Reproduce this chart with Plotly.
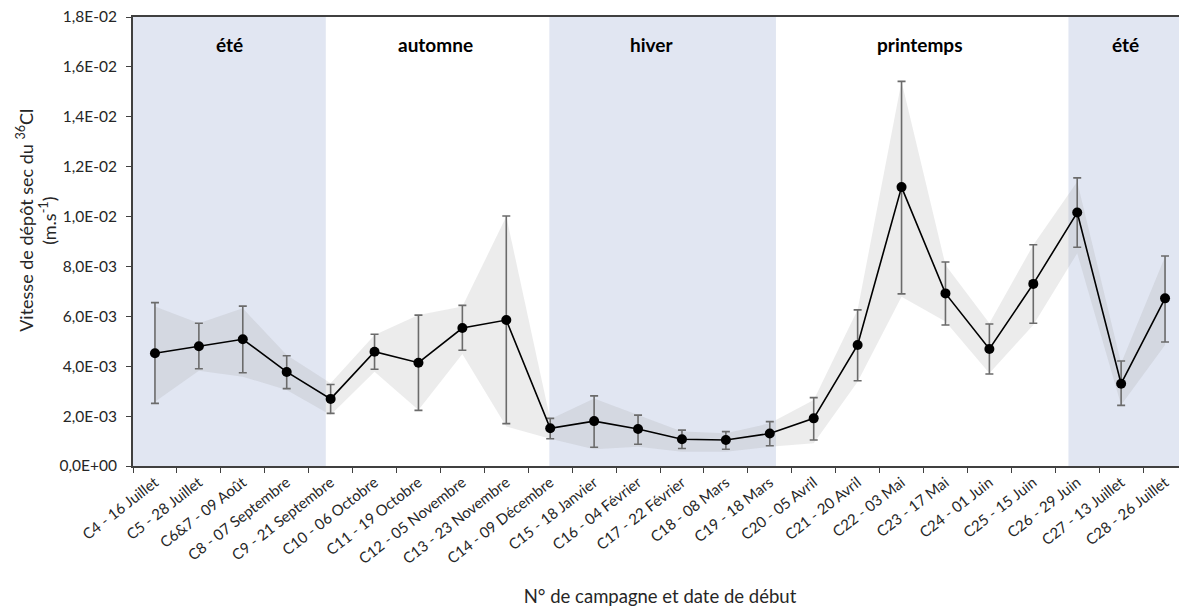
import plotly.graph_objects as go

# Campagnes et date de début
campagnes = ["C4 - 16 Juillet", "C5 - 28 Juillet", "C6&7 - 09 Août", "C8 - 07 Septembre",
             "C9 - 21 Septembre", "C10 - 06 Octobre", "C11 - 19 Octobre", "C12 - 05 Novembre",
             "C13 - 23 Novembre", "C14 - 09 Décembre", "C15 - 18 Janvier", "C16 - 04 Février",
             "C17 - 22 Février", "C18 - 08 Mars", "C19 - 18 Mars", "C20 - 05 Avril",
             "C21 - 20 Avril", "C22 - 03 Mai", "C23 - 17 Mai", "C24 - 01 Juin",
             "C25 - 15 Juin", "C26 - 29 Juin", "C27 - 13 Juillet", "C28 - 26 Juillet"]

# vitesse de dépôt (m.s-1)
vitesse = [4.52e-3, 4.80e-3, 5.08e-3, 3.77e-3, 2.69e-3, 4.58e-3, 4.14e-3, 5.53e-3,
           5.85e-3, 1.51e-3, 1.80e-3, 1.48e-3, 1.07e-3, 1.04e-3, 1.30e-3, 1.91e-3,
           4.85e-3, 1.118e-2, 6.92e-3, 4.69e-3, 7.30e-3, 1.016e-2, 3.30e-3, 6.72e-3]
err_haut = [6.55e-3, 5.72e-3, 6.41e-3, 4.42e-3, 3.27e-3, 5.28e-3, 6.05e-3, 6.44e-3,
            1.002e-2, 1.91e-3, 2.81e-3, 2.04e-3, 1.44e-3, 1.38e-3, 1.78e-3, 2.74e-3,
            6.26e-3, 1.542e-2, 8.18e-3, 5.69e-3, 8.87e-3, 1.155e-2, 4.21e-3, 8.42e-3]
err_bas = [2.51e-3, 3.90e-3, 3.74e-3, 3.10e-3, 2.11e-3, 3.88e-3, 2.23e-3, 4.64e-3,
           1.70e-3, 1.09e-3, 0.75e-3, 0.87e-3, 0.70e-3, 0.67e-3, 0.81e-3, 1.04e-3,
           3.42e-3, 6.90e-3, 5.65e-3, 3.69e-3, 5.72e-3, 8.77e-3, 2.43e-3, 4.97e-3]

# enveloppe grisée
bande_haut = [6.39e-3, 5.72e-3, 6.32e-3, 4.45e-3, 3.32e-3, 5.25e-3, 6.05e-3, 6.39e-3,
              1.0e-2, 1.87e-3, 2.71e-3, 2.04e-3, 1.38e-3, 1.31e-3, 1.71e-3, 2.65e-3,
              6.26e-3, 1.541e-2, 8.06e-3, 5.72e-3, 8.86e-3, 1.14e-2, 4.12e-3, 8.39e-3]
bande_bas = [2.58e-3, 3.82e-3, 3.58e-3, 3.05e-3, 2.04e-3, 3.78e-3, 2.25e-3, 4.49e-3,
             1.58e-3, 1.09e-3, 0.67e-3, 0.77e-3, 0.57e-3, 0.57e-3, 0.77e-3, 0.91e-3,
             3.38e-3, 6.79e-3, 5.79e-3, 3.72e-3, 5.65e-3, 8.53e-3, 2.45e-3, 4.85e-3]

saisons = ["été", "automne", "hiver", "printemps", "été"]
saisons_pos = [1.7, 6.39, 11.3, 17.4, 22.1]
# zones bleues (index de campagne)
zones = [(-0.5, 3.89), (8.98, 14.14), (20.8, 23.5)]

yticks = [0, 0.002, 0.004, 0.006, 0.008, 0.010, 0.012, 0.014, 0.016, 0.018]
yticks_txt = ["0,0E+00", "2,0E-03", "4,0E-03", "6,0E-03", "8,0E-03", "1,0E-02",
              "1,2E-02", "1,4E-02", "1,6E-02", "1,8E-02"]

font = "Lato, 'Open Sans', sans-serif"

fig = go.Figure()
fig.add_trace(go.Scatter(x=campagnes, y=bande_bas, mode="lines", line=dict(width=0),
                         showlegend=False, hoverinfo="skip"))
fig.add_trace(go.Scatter(x=campagnes, y=bande_haut, mode="lines", line=dict(width=0),
                         fill="tonexty", fillcolor="rgba(160,160,160,0.2)",
                         showlegend=False, hoverinfo="skip"))
fig.add_trace(go.Scatter(
    x=campagnes, y=vitesse, mode="lines+markers",
    line=dict(color="black", width=1.6),
    marker=dict(color="black", size=10),
    error_y=dict(type="data", symmetric=False,
                 array=[h - v for h, v in zip(err_haut, vitesse)],
                 arrayminus=[v - b for v, b in zip(vitesse, err_bas)],
                 color="#6b6b6b", thickness=1.6, width=4),
    showlegend=False))

for x0, x1 in zones:
    fig.add_shape(type="rect", xref="x", yref="paper", x0=x0, x1=x1, y0=0, y1=1,
                  fillcolor="#e1e6f2", line=dict(width=0), layer="below")

for s, p in zip(saisons, saisons_pos):
    fig.add_annotation(x=p, y=0.0169, xref="x", yref="y", text="<b>" + s + "</b>",
                       showarrow=False, font=dict(size=19, color="black", family=font))

# titre de l'axe y sur deux lignes rapprochées
fig.add_annotation(x=0, y=0.546, xref="paper", yref="paper", xanchor="center",
                   yanchor="middle", xshift=-108, textangle=-90, showarrow=False,
                   text="Vitesse de dépôt sec du <sup>36</sup>Cl",
                   font=dict(size=18, color="#262626", family=font))
fig.add_annotation(x=0, y=0.546, xref="paper", yref="paper", xanchor="center",
                   yanchor="middle", xshift=-85, textangle=-90, showarrow=False,
                   text="(m.s<sup>-1</sup>)",
                   font=dict(size=18, color="#262626", family=font))

# la page ajoute 8 px de marge autour de la figure
fig.update_layout(
    width=1179, height=604,
    margin=dict(l=125, r=0, t=9, b=146),
    plot_bgcolor="white", paper_bgcolor="white",
    font=dict(family=font, color="#262626"),
    xaxis=dict(
        type="category", range=[-0.5, 23.5], tickangle=-38, tickson="boundaries",
        ticks="outside", ticklen=5, tickcolor="#404040", tickfont=dict(size=15),
        showline=True, linecolor="#404040", linewidth=2, mirror=True, showgrid=False,
        automargin=False,
        title=dict(text="N° de campagne et date de début", font=dict(size=18.5), standoff=24)),
    yaxis=dict(
        range=[0, 0.018], tickvals=yticks, ticktext=yticks_txt, tickfont=dict(size=15.5),
        ticks="outside", ticklen=5, tickcolor="#404040", ticklabelstandoff=6,
        ticklabeloverflow="allow",
        showline=True, linecolor="#404040", linewidth=2, showgrid=False, zeroline=False,
        automargin=False),
)

fig.write_html("out.html")
